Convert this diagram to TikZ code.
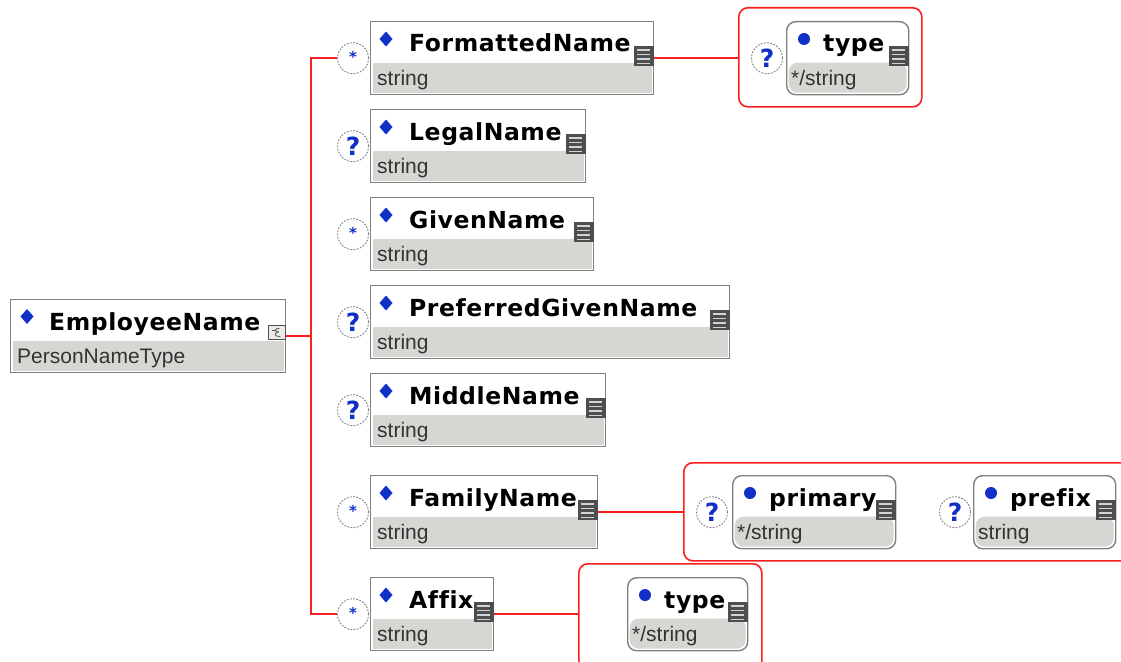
\documentclass[tikz,border=0pt]{standalone}
\usepackage{fontspec}
\setmainfont{DejaVu Sans}
\newfontfamily\namefont[LetterSpace=2.5,Ligatures={NoCommon}]{DejaVu Sans}
\newfontfamily\typefont{Liberation Sans}
\usetikzlibrary{calc}

\definecolor{xred}{RGB}{250,30,30}
\definecolor{xgray}{RGB}{128,128,128}
\definecolor{xfill}{RGB}{214,214,210}
\definecolor{xblue}{RGB}{16,48,200}
\definecolor{xicon}{RGB}{78,78,78}
\definecolor{xtext}{RGB}{51,51,51}

\tikzset{
  redline/.style={draw=xred, line width=1.6pt},
  elembox/.style={draw=xgray, line width=1.4pt, rectangle, anchor=north west,
    minimum height=73pt, inner sep=0pt,
    path picture={\fill[xfill] ([xshift=2pt,yshift=2pt]path picture bounding box.south west)
      rectangle ([xshift=-2pt,yshift=32pt]path picture bounding box.south east);}},
  attrbox/.style={elembox, rounded corners=9pt},
  groupbox/.style={draw=xred, line width=1.6pt, rectangle, rounded corners=9pt,
    anchor=north west, inner sep=0pt},
  nametext/.style={anchor=base west, inner sep=0pt, font=\namefont\fontsize{23.5}{26}\selectfont\bfseries},
  typetext/.style={anchor=base west, inner sep=0pt, text=xtext, font=\typefont\fontsize{21}{24}\selectfont},
  occ/.style={circle, draw=xgray, line width=0.9pt, dash pattern=on 1.8pt off 1.4pt,
    minimum size=31pt, inner sep=0pt, fill=white},
}

\newcommand\xqm{\textcolor{xblue}{\fontsize{25}{25}\selectfont\bfseries ?}}
\newcommand\xst{\raisebox{2pt}{\textcolor{xblue}{\fontsize{15}{15}\selectfont\bfseries *}}}

\newcommand\xlisticon[1]{%
  \fill[xicon] ($(#1.north east)+(-20,25)$) rectangle ($(#1.north east)+(0,45)$);
  \foreach \yy in {29,33.5,38,42.5}{
    \draw[white!75!xicon, line width=1.2pt] ($(#1.north east)+(-17,\yy)$) -- ($(#1.north east)+(-4,\yy)$);}
}

% #1 name, #2 x, #3 y, #4 width, #5 label, #6 type
\newcommand\xelem[6]{%
  \node[elembox, minimum width=#4pt] (#1) at (#2,#3) {};
  \fill[xblue] ($(#1.north west)+(16,10.5)$) -- ++(6.5,7.5) -- ++(-6.5,7.5) -- ++(-6.5,-7.5) -- cycle;
  \node[nametext] (#1-n) at ($(#1.north west)+(39,31)$) {#5};
  \node[typetext] (#1-t) at ($(#1.north west)+(7,64)$) {#6};
  \xlisticon{#1}
}
% attribute
\newcommand\xattr[6]{%
  \node[attrbox, minimum width=#4pt] (#1) at (#2,#3) {};
  \fill[xblue] ($(#1.north west)+(18,18)$) circle (6pt);
  \node[nametext] (#1-n) at ($(#1.north west)+(37,31)$) {#5};
  \node[typetext] (#1-t) at ($(#1.north west)+(5,64)$) {#6};
  \xlisticon{#1}
}

\begin{document}
\begin{tikzpicture}[x=1pt,y=-1pt]
\useasboundingbox (0,0) rectangle (1121,661);
\fill[white] (0,0) rectangle (1121,661);
\clip (0,0) rectangle (1121,661);

% root element
\node[elembox, minimum width=275pt] (emp) at (10,299) {};
\fill[xblue] ($(emp.north west)+(17,10)$) -- ++(6.5,7.5) -- ++(-6.5,7.5) -- ++(-6.5,-7.5) -- cycle;
\node[nametext] (emp-n) at ($(emp.north west)+(39,31)$) {EmployeeName};
\node[typetext] (emp-t) at ($(emp.north west)+(7,64)$) {PersonNameType};
\draw[xicon, fill=xfill!50, line width=0.9pt] ($(emp.north east)+(-18,26)$) rectangle ($(emp.north east)+(-1,40)$);
\draw[xicon, line width=0.8pt] ($(emp.north east)+(-7,29.5)$) .. controls ($(emp.north east)+(-12,29)$) and ($(emp.north east)+(-12,33)$) .. ($(emp.north east)+(-8,33)$)
  .. controls ($(emp.north east)+(-13,34)$) and ($(emp.north east)+(-12,38)$) .. ($(emp.north east)+(-6,37.5)$);
\draw[xicon, line width=0.8pt] ($(emp.north east)+(-14,31)$) -- ($(emp.north east)+(-10,31)$);

% children
\xelem{fn}{370}{21}{283}{FormattedName}{string}
\xelem{ln}{370}{109}{215}{LegalName}{string}
\xelem{gn}{370}{197}{223}{GivenName}{string}
\xelem{pgn}{370}{285}{359}{PreferredGivenName}{string}
\xelem{mn}{370}{373}{235}{MiddleName}{string}
\xelem{fam}{370}{475}{227}{FamilyName}{string}
\xelem{afx}{370}{577}{123}{Affix}{string}

% occurrence circles
\node[occ] (c1) at ($(fn.west)+(-17,0)$) {\xst};
\node[occ] (c2) at ($(ln.west)+(-17,0)$) {\xqm};
\node[occ] (c3) at ($(gn.west)+(-17,0)$) {\xst};
\node[occ] (c4) at ($(pgn.west)+(-17,0)$) {\xqm};
\node[occ] (c5) at ($(mn.west)+(-17,0)$) {\xqm};
\node[occ] (c6) at ($(fam.west)+(-17,0)$) {\xst};
\node[occ] (c7) at ($(afx.west)+(-17,0)$) {\xst};

% bus
\coordinate (bus) at (311,0);
\draw[redline] (emp.east) -- (emp.east -| bus);
\draw[redline] (c1.west) -- (c1.west -| bus) -- (c7.west -| bus) -- (c7.west);

% attribute groups
\node[groupbox, minimum width=183pt, minimum height=99pt] (g1) at (738,7) {};
\node[groupbox, minimum width=520pt, minimum height=98pt] (g2) at (683,462) {};
\node[groupbox, minimum width=183pt, minimum height=140pt] (g3) at (578,563) {};

\draw[redline] (fn.east) -- (fn.east -| g1.west);
\draw[redline] (fam.east) -- (fam.east -| g2.west);
\draw[redline] (afx.east) -- (afx.east -| g3.west);

\xattr{a1}{786}{21}{122}{type}{*/string}
\xattr{a2}{732}{475}{163}{primary}{*/string}
\xattr{a3}{973}{475}{142}{prefix}{string}
\xattr{a4}{627}{577}{120}{type}{*/string}

\node[occ] (c8) at ($(a1.west)+(-19,0)$) {\xqm};
\node[occ] (c9) at ($(a2.west)+(-20,0)$) {\xqm};
\node[occ] (c10) at ($(a3.west)+(-18,0)$) {\xqm};
\end{tikzpicture}
\end{document}
